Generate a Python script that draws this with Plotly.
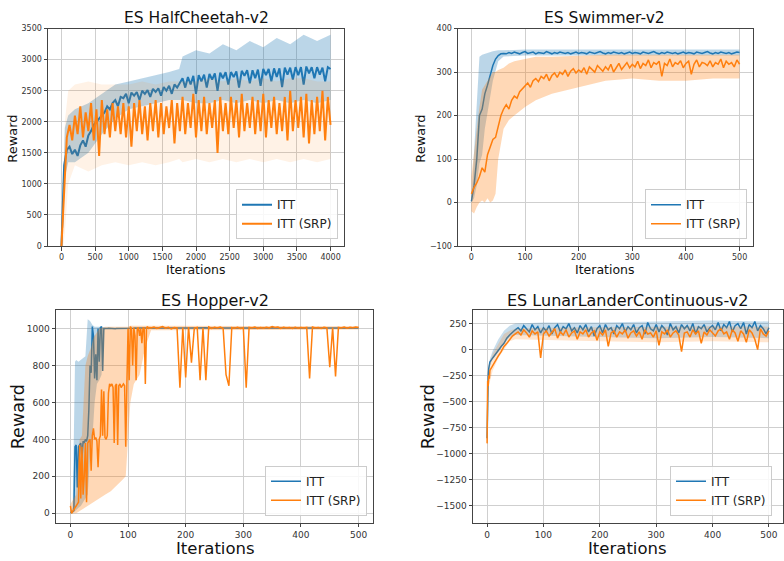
import plotly.graph_objects as go

# ---------------- DATA ----------------
# HalfCheetah (iterations step 40, 0..4000)
hc_step = 40
hc_itt = [
    0, 1300, 1550, 1600, 1480, 1550, 1450, 1620, 1700, 1600,
    1780, 1850, 1950, 2000, 2050, 2100, 2150, 2250, 2200, 2300,
    2350, 2250, 2400, 2380, 2450, 2300, 2470, 2420, 2480, 2350,
    2500, 2450, 2510, 2400, 2530, 2480, 2540, 2420, 2560, 2500,
    2580, 2450, 2600, 2550, 2620, 2700, 2550, 2720, 2600, 2740,
    2450, 2750, 2650, 2760, 2550, 2770, 2680, 2780, 2500, 2790,
    2700, 2800, 2600, 2800, 2720, 2810, 2550, 2820, 2740, 2830,
    2620, 2830, 2700, 2840, 2580, 2850, 2750, 2850, 2650, 2860,
    2720, 2860, 2560, 2870, 2760, 2870, 2680, 2880, 2750, 2880,
    2600, 2890, 2780, 2880, 2700, 2880, 2760, 2870, 2650, 2880,
    2850]
hc_srp = [
    0, 900, 1750, 1950, 1700, 2100, 1800, 2250, 1750, 2150,
    1850, 2300, 1700, 2200, 1450, 2350, 1800, 2200, 1750, 2300,
    1850, 2250, 1800, 2300, 1750, 2250, 1600, 2300, 1850, 2350,
    1800, 2250, 1700, 2300, 1850, 2350, 1750, 2300, 1800, 2250,
    1900, 2350, 1650, 2300, 1850, 2400, 1800, 2300, 1900, 2450,
    1750, 2350, 1850, 2400, 1800, 2300, 1900, 2350, 1500, 2400,
    1850, 2300, 1800, 2400, 1900, 2350, 1750, 2450, 1850, 2300,
    1900, 2400, 1800, 2350, 1850, 2450, 1750, 2350, 1900, 2400,
    1800, 2300, 1850, 2400, 1700, 2500, 1850, 2350, 1900, 2400,
    1750, 2450, 1650, 2350, 1800, 2400, 1850, 2500, 1700, 2400,
    1950]
hc_band_x = [0, 25, 50, 100, 200, 400, 600, 800, 1000, 1200, 1400, 1600, 1750,
             1800, 2000, 2200, 2400, 2600, 2800, 3000, 3200, 3400, 3600, 3800, 4000]
hc_itt_hi = [0, 1000, 1900, 2100, 2200, 2300, 2450, 2600, 2650, 2700, 2750, 2800, 2850,
             3050, 3150, 3100, 3250, 3150, 3300, 3200, 3350, 3250, 3400, 3300, 3400]
hc_itt_lo = [0, 300, 1100, 1350, 1350, 1500, 1800, 2050, 2200, 2250, 2300, 2350, 2350,
             2350, 2300, 2300, 2350, 2300, 2350, 2300, 2350, 2300, 2350, 2300, 2350]
hc_srp_hi = [0, 800, 2000, 2500, 2600, 2650, 2600, 2600, 2600, 2650, 2600, 2650, 2650,
             2650, 2650, 2700, 2650, 2700, 2650, 2700, 2650, 2700, 2700, 2650, 2650]
hc_srp_lo = [0, 0, 200, 1000, 1300, 1200, 1300, 1350, 1300, 1350, 1300, 1350, 1400,
             1350, 1400, 1350, 1400, 1350, 1400, 1350, 1400, 1350, 1400, 1350, 1400]

# Swimmer (iterations step 5, 0..500)
sw_step = 5
sw_itt = [
    3, 40, 100, 200, 215, 250, 270, 295, 315, 330,
    338, 342, 343, 342, 345, 343, 346, 344, 342, 345,
    347, 343, 344, 346, 342, 345, 344, 343, 347, 344,
    342, 345, 343, 346, 344, 343, 345, 342, 344, 346,
    343, 345, 344, 342, 346, 344, 343, 345, 347, 344,
    342, 345, 343, 346, 344, 343, 345, 342, 344, 346,
    343, 345, 344, 342, 346, 344, 343, 345, 347, 344,
    342, 345, 343, 346, 344, 343, 345, 342, 344, 346,
    343, 345, 344, 342, 346, 344, 343, 345, 347, 344,
    342, 345, 343, 346, 344, 343, 345, 342, 344, 346,
    345]
sw_srp = [
    20, 35, 45, 60, 80, 70, 110, 130, 145, 150,
    175, 200, 215, 225, 215, 235, 245, 240, 255, 262,
    268, 275, 265, 280, 285, 278, 290, 285, 295, 280,
    292, 298, 288, 300, 295, 305, 290, 302, 308, 298,
    305, 300, 310, 295, 312, 305, 300, 315, 308, 302,
    312, 305, 318, 300, 310, 320, 306, 315, 322, 310,
    318, 312, 325, 308, 320, 315, 328, 310, 322, 318,
    325, 290, 320, 315, 330, 312, 322, 318, 326, 310,
    320, 325, 295, 318, 328, 312, 322, 320, 315, 326,
    312, 322, 318, 330, 310, 325, 318, 322, 312, 328,
    318]
sw_itt_band_x = [0, 5, 10, 15, 20, 25, 30, 40, 50, 60, 100, 200, 300, 400, 500]
sw_itt_hi = [10, 120, 240, 335, 340, 342, 345, 348, 350, 350, 352, 352, 352, 352, 352]
sw_itt_lo = [0, 10, 40, 90, 110, 170, 210, 280, 325, 336, 338, 338, 338, 338, 338]
sw_srp_band_x = [0, 5, 10, 15, 20, 25, 30, 35, 40, 45, 50, 60, 70, 80, 100, 120,
                 150, 200, 250, 300, 350, 400, 450, 500]
sw_srp_hi = [60, 120, 170, 220, 260, 270, 280, 290, 300, 300, 305, 310, 320, 325, 330, 335,
             335, 338, 340, 340, 340, 340, 340, 340]
sw_srp_lo = [-20, -25, -10, 0, 5, 0, 10, 0, 5, 20, 100, 170, 190, 200, 220, 235,
             250, 265, 280, 285, 280, 280, 285, 285]

# Hopper (step 2 for 0..138, step 5 for 140..500)
hp_x = list(range(0, 140, 2)) + list(range(140, 501, 5))
hp_itt = [
    5, 5, 10, 15, 360, 370, 140, 360, 370, 380,
    300, 390, 380, 400, 390, 420, 560, 800, 760, 1010,
    960, 730, 860, 720, 1000, 820, 1005, 1010, 770, 1000,
    1000, 1002, 1000, 1001, 1000, 1000, 1001, 1000, 1000, 999,
    1000, 1000, 1001, 1000, 999, 1000, 998, 999, 998, 997,
    998, 999, 1000, 1001, 1000, 1001, 1002, 1001, 1002, 1001,
    1002, 1003, 1002, 1003, 1002, 1003, 1002, 1003, 1002, 1003,
    1003, 1002, 1004, 1003, 1002, 1003, 1004, 1002, 1003, 1003,
    1002, 1004, 1003, 1002, 1003, 1004, 1003, 1002, 1003, 1004,
    1003, 1002, 1004, 1003, 1002, 1003, 1004, 1002, 1003, 1003,
    1002, 1004, 1003, 1002, 1003, 1004, 1003, 1002, 1003, 1004,
    1003, 1002, 1004, 1003, 1002, 1003, 1004, 1002, 1003, 1003,
    1002, 1004, 1003, 1002, 1003, 1004, 1003, 1002, 1003, 1004,
    1003, 1002, 1004, 1003, 1002, 1003, 1004, 1002, 1003, 1003,
    1002, 1004, 1003]
hp_srp = [
    40, 0, 10, 20, 30, 40, 50, 60, 370, 80,
    360, 100, 200, 380, 60, 380, 390, 400, 230, 420,
    460, 400, 410, 390, 250, 400, 420, 670, 420, 660,
    410, 400, 420, 650, 700, 690, 700, 680, 380, 690,
    700, 370, 690, 700, 680, 690, 700, 690, 360, 700,
    1000, 720, 1010, 1000, 800, 1005, 960, 720, 1000, 1005,
    960, 1000, 920, 1005, 1000, 700, 1005, 1008, 1000, 1005,
    1003, 1008, 1000, 1005, 1010, 1002, 1006, 998, 1005, 1003,
    680, 1005, 735, 1008, 815, 1002, 1006, 720, 1004, 720,
    1008, 1000, 1006, 1003, 1008, 1000, 750, 690, 1005, 1002,
    1007, 1000, 1004, 680, 1006, 1003, 1008, 1000, 1005, 1002,
    1007, 1003, 1010, 1005, 1008, 1000, 1006, 1003, 1005, 1000,
    1007, 1002, 1005, 1003, 1006, 730, 1008, 1003, 1005, 1000,
    1006, 1003, 790, 1005, 740, 1006, 1003, 1008, 1002, 1006,
    1004, 1008, 1005]
hp_itt_band_x = [0, 4, 8, 10, 14, 18, 22, 26, 30, 34, 38, 42, 46, 50, 54, 58, 62, 80, 500]
hp_itt_hi = [10, 30, 820, 830, 820, 830, 840, 850, 1050, 1040, 1020, 1010, 1010, 1010,
             1010, 1005, 1004, 1004, 1004]
hp_itt_lo = [0, 0, 10, 20, 30, 40, 60, 80, 100, 300, 400, 600, 700, 720, 750, 990, 1000,
             1000, 1000]
hp_srp_band_x = [0, 10, 16, 20, 26, 30, 36, 40, 50, 60, 70, 80, 90, 96, 100, 104, 110,
                 120, 130, 140, 500]
hp_srp_hi = [50, 100, 400, 420, 800, 850, 900, 950, 1000, 1010, 1010, 1010, 1010, 1010,
             1010, 1015, 1015, 1015, 1012, 1012, 1012]
hp_srp_lo = [0, 0, 10, 20, 30, 40, 50, 60, 80, 100, 120, 150, 180, 200, 400, 600, 700,
             750, 900, 990, 995]

# LunarLanderContinuous (0..4 step 1, then 5..500 step 5)
ll_x = [0, 1, 2, 3, 4] + list(range(5, 501, 5))
ll_itt = [
    -850, -450, -250, -180, -150,
    -120, -80, -40, 0, 30, 60, 110, 140, 170, 190,
    210, 180, 230, 200, 170, 240, 190, 220, 160, 210,
    180, 230, 150, 210, 240, 170, 220, 200, 250, 180,
    210, 160, 230, 190, 240, 170, 220, 130, 200, 230,
    160, 240, 190, 210, 150, 230, 200, 250, 170, 220,
    190, 240, 160, 210, 230, 150, 260, 200, 180, 240,
    170, 230, 200, 140, 250, 190, 220, 160, 240, 200,
    230, 180, 250, 150, 220, 200, 240, 170, 210, 230,
    190, 260, 180, 240, 210, 270, 170, 230, 250, 200,
    260, 150, 240, 210, 270, 180, 230, 200, 150, 210]
ll_srp = [
    -900, -300, -350, -250, -280,
    -200, -150, -100, -60, -20, 30, 60, 100, 130, 150,
    170, 140, 190, 160, 120, 180, 150, 170, -80, 150,
    180, 130, 160, 200, 110, 170, 140, 190, 120, 160,
    180, 100, 170, 150, 190, 120, 160, 180, 90, 170,
    140, 190, 30, 160, 180, 120, 170, 150, 190, 110,
    160, 180, 130, 170, 100, 190, 150, 160, 120, 180,
    40, 170, 150, 190, 120, 160, 180, 140, -20, 160,
    170, 120, 190, 150, 180, 60, 170, 140, 190, 160,
    130, 180, 200, 150, 170, 100, 190, 160, 80, 180,
    150, 70, 190, 160, 100, 0, 200, 150, 130, 180]
ll_band_x = [0, 1, 2, 3, 5, 10, 20, 30, 40, 50, 100, 200, 300, 400, 500]
ll_itt_hi = [-700, -350, -200, -150, -90, -10, 100, 180, 230, 250, 260, 260, 270, 280, 270]
ll_itt_lo = [-900, -550, -300, -220, -160, -80, -20, 60, 120, 140, 130, 120, 110, 120, 110]
ll_srp_hi = [-600, -200, -250, -150, -130, -40, 60, 150, 180, 200, 210, 215, 220, 225, 220]
ll_srp_lo = [-1300, -450, -450, -350, -300, -200, -80, 0, 80, 100, 90, 80, 70, 80, 70]

titles = ["ES HalfCheetah-v2", "ES Swimmer-v2", "ES Hopper-v2", "ES LunarLanderContinuous-v2"]
series_names = ["ITT", "ITT (SRP)"]

# ---------------- FIGURE ----------------
W, H = 784, 561
BLUE = "#1f77b4"
ORANGE = "#ff7f0e"
FONT = "DejaVu Sans"

fig = go.Figure()


def px_x(p):
    return p / W


def px_y(p):
    return 1 - p / H


def add_panel(k, itt_x, itt_y, srp_x, srp_y, bi_x, bi_hi, bi_lo, bs_x, bs_hi, bs_lo,
              blue_alpha=0.3, orange_alpha=0.3, lw=1.5):
    xa = "x" if k == 1 else f"x{k}"
    ya = "y" if k == 1 else f"y{k}"
    lg = "legend" if k == 1 else f"legend{k}"
    fig.add_trace(go.Scatter(x=list(bi_x) + list(bi_x)[::-1], y=list(bi_hi) + list(bi_lo)[::-1],
                             fill="toself", fillcolor=f"rgba(31,119,180,{blue_alpha})",
                             line=dict(width=0), mode="lines", showlegend=False,
                             hoverinfo="skip", xaxis=xa, yaxis=ya))
    fig.add_trace(go.Scatter(x=itt_x, y=itt_y, mode="lines", name=series_names[0],
                             line=dict(color=BLUE, width=lw), xaxis=xa, yaxis=ya, legend=lg))
    fig.add_trace(go.Scatter(x=list(bs_x) + list(bs_x)[::-1], y=list(bs_hi) + list(bs_lo)[::-1],
                             fill="toself", fillcolor=f"rgba(255,127,14,{orange_alpha})",
                             line=dict(width=0), mode="lines", showlegend=False,
                             hoverinfo="skip", xaxis=xa, yaxis=ya))
    fig.add_trace(go.Scatter(x=srp_x, y=srp_y, mode="lines", name=series_names[1],
                             line=dict(color=ORANGE, width=lw), xaxis=xa, yaxis=ya, legend=lg))


hc_x = [i * hc_step for i in range(len(hc_itt))]
hc_x2 = [i * hc_step for i in range(len(hc_srp))]
sw_x = [i * sw_step for i in range(len(sw_itt))]
sw_x2 = [i * sw_step for i in range(len(sw_srp))]

add_panel(1, hc_x, hc_itt, hc_x2, hc_srp, hc_band_x, hc_itt_hi, hc_itt_lo,
          hc_band_x, hc_srp_hi, hc_srp_lo, blue_alpha=0.3, orange_alpha=0.1, lw=2)
add_panel(2, sw_x, sw_itt, sw_x2, sw_srp, sw_itt_band_x, sw_itt_hi, sw_itt_lo,
          sw_srp_band_x, sw_srp_hi, sw_srp_lo)
add_panel(3, hp_x, hp_itt, hp_x, hp_srp, hp_itt_band_x, hp_itt_hi, hp_itt_lo,
          hp_srp_band_x, hp_srp_hi, hp_srp_lo, blue_alpha=0.3, orange_alpha=0.3)
add_panel(4, ll_x, ll_itt, ll_x, ll_srp, ll_band_x, ll_itt_hi, ll_itt_lo,
          ll_band_x, ll_srp_hi, ll_srp_lo, blue_alpha=0.25, orange_alpha=0.2)

# panel geometry in pixels: (left, right, top, bottom)
panels = [(48, 344, 25, 246), (458, 753, 25, 246), (56, 373, 311, 527), (473, 783, 311, 527)]
xranges = [[-200, 4200], [-25, 525], [-25, 525], [-25, 525]]
yranges = [[0, 3500], [-100, 400], [-50, 1100], [-1660, 380]]
xticks = [list(range(0, 4001, 500)), list(range(0, 501, 100)), list(range(0, 501, 100)),
          list(range(0, 501, 100))]
yticks = [list(range(0, 3501, 500)), list(range(-100, 401, 100)), list(range(0, 1001, 200)),
          list(range(-1500, 251, 250))]
tick_sizes = [8, 8, 9, 9]

layout = dict(width=W, height=H, margin=dict(l=0, r=0, t=0, b=0),
              paper_bgcolor="white", plot_bgcolor="white",
              font=dict(family=FONT, color="#222"))

for i, (l, r, t, b) in enumerate(panels):
    k = i + 1
    xn = "xaxis" if k == 1 else f"xaxis{k}"
    yn = "yaxis" if k == 1 else f"yaxis{k}"
    common = dict(showline=True, mirror=True, linecolor="#444", linewidth=1,
                  ticks="outside", ticklen=3.5, tickwidth=0.8, tickcolor="#444",
                  showgrid=True, gridcolor="#cfcfcf", gridwidth=1, zeroline=False,
                  tickfont=dict(size=tick_sizes[i], family=FONT, color="#333"))
    layout[xn] = dict(domain=[px_x(l), px_x(r)], range=xranges[i], tickvals=xticks[i],
                      anchor="y" if k == 1 else f"y{k}", **common)
    layout[yn] = dict(domain=[px_y(b), px_y(t)], range=yranges[i], tickvals=yticks[i],
                      anchor="x" if k == 1 else f"x{k}", **common)

# legends
leg_pos = [(338, 239), (747, 239), (367, 520), (772, 520)]
for i, (lx, ly) in enumerate(leg_pos):
    name = "legend" if i == 0 else f"legend{i + 1}"
    layout[name] = dict(x=px_x(lx), y=px_y(ly), xanchor="right", yanchor="bottom",
                        bgcolor="rgba(255,255,255,0.85)", bordercolor="#cccccc",
                        borderwidth=1, font=dict(size=12, family=FONT, color="#222"),
                        tracegroupgap=0, itemwidth=30)

ann = []
# titles
title_pos = [(196, 14, 15.5), (604, 14, 15.5), (215, 301, 16), (627, 301, 16)]
for txt, (x, y, s) in zip(titles, title_pos):
    ann.append(dict(text=txt, x=px_x(x), y=px_y(y), xref="paper", yref="paper",
                    xanchor="center", yanchor="middle", showarrow=False,
                    font=dict(size=s, family=FONT, color="#111")))
# x labels
for (x, y, s) in [(196, 270, 12.5), (605, 270, 12.5), (215, 553, 16.5), (627, 553, 16.5)]:
    ann.append(dict(text="Iterations", x=px_x(x), y=px_y(y), xref="paper", yref="paper",
                    xanchor="center", yanchor="middle", showarrow=False,
                    font=dict(size=s, family=FONT, color="#111")))
# y labels
for (x, y, s) in [(13, 137, 13), (421, 137, 13), (18, 420, 17.5), (428, 420, 17.5)]:
    ann.append(dict(text="Reward", x=px_x(x), y=px_y(y), xref="paper", yref="paper",
                    xanchor="center", yanchor="middle", showarrow=False, textangle=-90,
                    font=dict(size=s, family=FONT, color="#111")))
layout["annotations"] = ann

fig.update_layout(**layout)
fig.write_html("out.html", config={"displayModeBar": False},
               post_script="document.body.style.margin='0';document.body.style.overflow='hidden';")
